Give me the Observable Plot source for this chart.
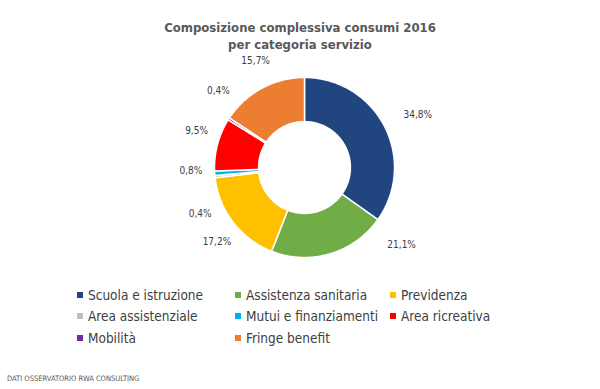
<!DOCTYPE html>
<html><head><meta charset="utf-8">
<script src="https://cdn.jsdelivr.net/npm/d3@7"></script>
<script src="https://cdn.jsdelivr.net/npm/@observablehq/plot@0.6"></script>
<style>
body{margin:0;background:#fff;}
#wrap{position:relative;width:600px;height:389px;overflow:hidden;background:#fff;font-family:"DejaVu Sans Condensed","DejaVu Sans",sans-serif;}
#title{position:absolute;left:0;width:600px;top:20px;text-align:center;font-weight:bold;font-size:13px;line-height:16.5px;color:#595959;}
#chart{position:absolute;left:0;top:0;}
#legend{position:absolute;left:77px;top:284px;display:grid;grid-template-columns:158px 155px 155px;grid-auto-rows:21.5px;font-size:13.5px;color:#404040;}
#legend .it{display:flex;align-items:center;white-space:nowrap;}
#legend .sw{width:6px;height:6px;margin-right:5px;flex:none;}
#footer{position:absolute;left:7px;top:374px;font-size:7.5px;color:#595959;}
</style></head>
<body>
<div id="wrap">
  <div id="chart"></div>
  <div id="title">Composizione complessiva consumi 2016<br>per categoria servizio</div>
  <div id="legend"></div>
  <div id="footer">DATI OSSERVATORIO RWA CONSULTING</div>
</div>
<script>
const categories = ["Scuola e istruzione","Assistenza sanitaria","Previdenza","Area assistenziale","Mutui e finanziamenti","Area ricreativa","Mobilità","Fringe benefit"];
const values = [34.8, 21.1, 17.2, 0.4, 0.8, 9.5, 0.4, 15.7];
const colors = ["#21457f","#70ad47","#ffc000","#bfbfbf","#00b0f0","#ff0000","#7030a0","#ed7d31"];
// label placement nudges (degrees), like the spreadsheet's best-fit labels
const labelNudge = [1, -33, -1, -17, 2, 3, 7, 1];

const W = 600, H = 389, cx = 304, cy = 167, R = 90, inner = 0.51;

const arcs = d3.pie().sort(null).value(d => d)(values);
const pts = [];
arcs.forEach((a, i) => {
  const n = Math.max(4, Math.ceil((a.endAngle - a.startAngle) * 60));
  for (let k = 0; k <= n; k++) {
    const t = a.startAngle + (a.endAngle - a.startAngle) * k / n;
    pts.push({key: categories[i], x: Math.sin(t), y: Math.cos(t)});
  }
  for (let k = n; k >= 0; k--) {
    const t = a.startAngle + (a.endAngle - a.startAngle) * k / n;
    pts.push({key: categories[i], x: inner * Math.sin(t), y: inner * Math.cos(t)});
  }
});
const fmt = v => v.toFixed(1).replace(".", ",") + "%";
const lab = arcs.map((a, i) => {
  const t = (a.startAngle + a.endAngle) / 2 + labelNudge[i] * Math.PI / 180;
  return {x: 1.33 * Math.sin(t), y: 1.33 * Math.cos(t), text: fmt(values[i])};
});

const chart = Plot.plot({
  width: W, height: H,
  marginLeft: 0, marginRight: 0, marginTop: 0, marginBottom: 0,
  x: {domain: [-cx / R, (W - cx) / R], axis: null},
  y: {domain: [-(H - cy) / R, cy / R], axis: null},
  color: {domain: categories, range: colors},
  style: {background: "transparent", fontFamily: "'DejaVu Sans Condensed','DejaVu Sans',sans-serif"},
  marks: [
    Plot.line(pts, {x: "x", y: "y", z: "key", fill: "key", stroke: "white", strokeWidth: 1.5, curve: "linear-closed"}),
    Plot.text(lab, {x: "x", y: "y", text: "text", dx: 6, fontSize: 10, fill: "#404040"})
  ]
});
document.getElementById("chart").appendChild(chart);

const leg = document.getElementById("legend");
categories.forEach((c, i) => {
  const d = document.createElement("div"); d.className = "it";
  const s = document.createElement("span"); s.className = "sw"; s.style.background = colors[i];
  const t = document.createElement("span"); t.textContent = c;
  d.appendChild(s); d.appendChild(t); leg.appendChild(d);
});
</script>
</body></html>
